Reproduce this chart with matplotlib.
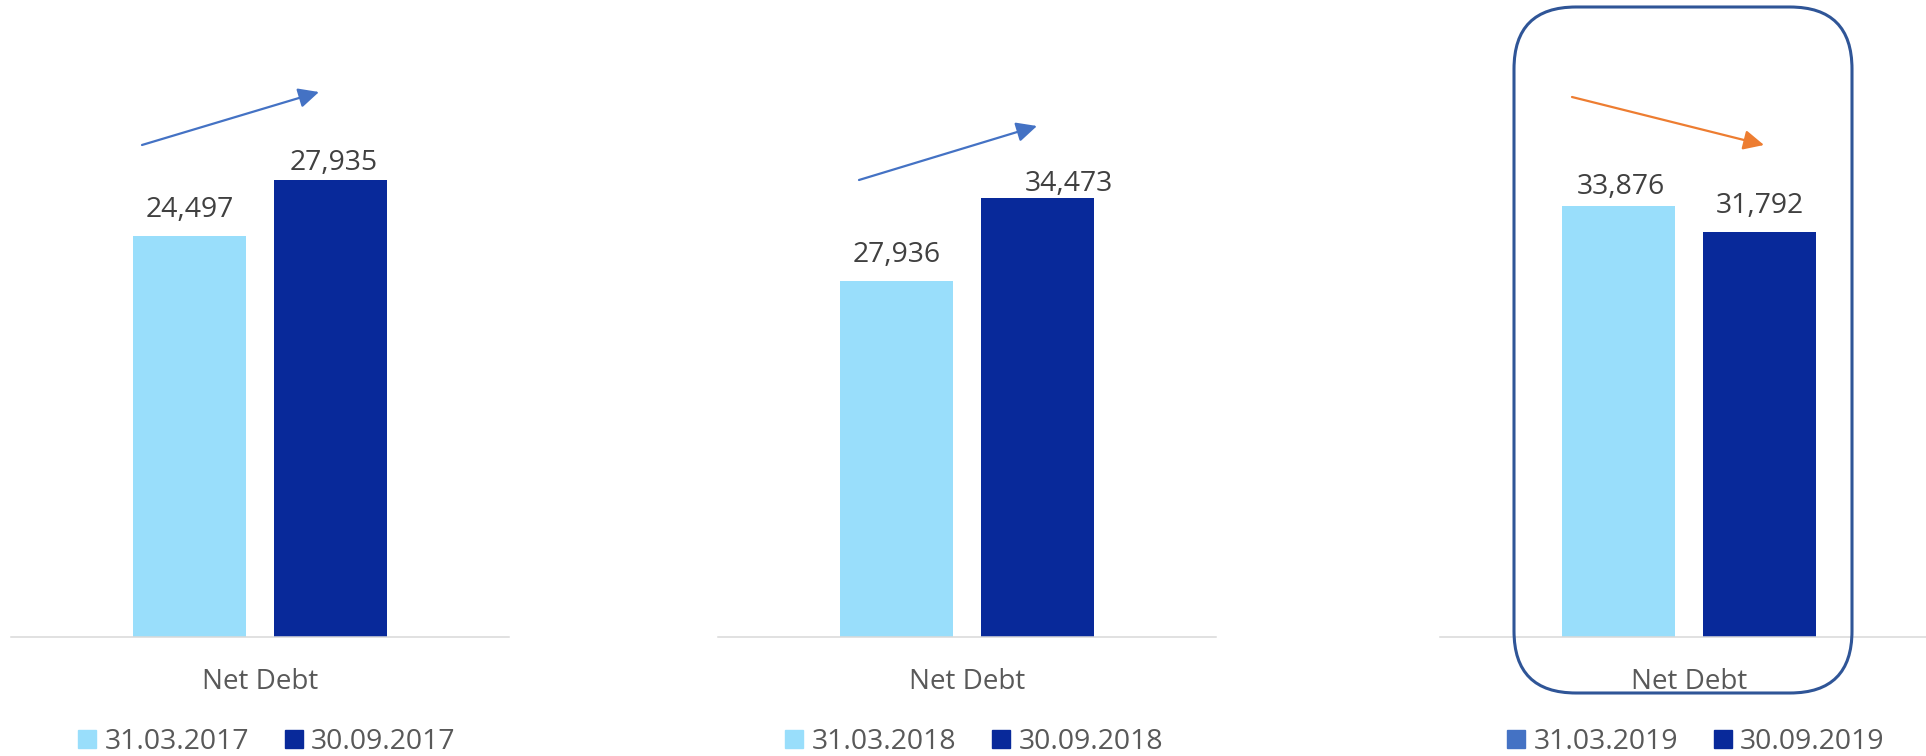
import matplotlib
matplotlib.use("Agg")
import matplotlib.pyplot as plt
from matplotlib.patches import FancyBboxPatch, Patch
from matplotlib.transforms import IdentityTransform

plt.rcParams["font.family"] = ["Open Sans", "DejaVu Sans"]

# data
category = "Net Debt"
start_dates = ["31.03.2017", "31.03.2018", "31.03.2019"]
end_dates = ["30.09.2017", "30.09.2018", "30.09.2019"]
start_values = [24497, 27936, 33876]
end_values = [27935, 34473, 31792]
y_max = [35000, 45000, 45000]

# styling
light = "#99DEFB"
dark = "#08299A"
legend_light = [light, light, "#4472C4"]
trend_colours = ["#4472C4", "#4472C4", "#ED7D31"]
# label nudges (pixels) for start / end bar labels
label_nudge = [((0, 19), (3, 10)), ((0, 19), (31, 7)), ((3, 12), (0, 19))]
# arrow ends in figure pixels (from top-left)
arrows = [((142, 145), (319, 92)), ((859, 180), (1037, 126)), ((1572, 97), (1764, 145))]

W, H = 1926, 756
fig = plt.figure(figsize=(W / 100, H / 100), dpi=100)

ax_left = [11, 718, 1440]
ax_width = 498
bottom_px, top_px = 637, 64

bar_w = 0.226
off = 0.142

for i in range(3):
    ax = fig.add_axes([ax_left[i] / W, (H - bottom_px) / H, ax_width / W, (bottom_px - top_px) / H])
    ax.set_xlim(-0.5, 0.5)
    ax.set_ylim(0, y_max[i])
    b1 = ax.bar(-off, start_values[i], width=bar_w, color=light)
    b2 = ax.bar(off, end_values[i], width=bar_w, color=dark)

    for spine in ["top", "left", "right"]:
        ax.spines[spine].set_visible(False)
    ax.spines["bottom"].set_color("#D9D9D9")
    ax.spines["bottom"].set_linewidth(1.1)
    ax.set_yticks([])
    ax.set_xticks([])

    for bars, val, (dx, dy) in zip([b1, b2], [start_values[i], end_values[i]], label_nudge[i]):
        r = bars[0]
        ax.annotate(f"{val:,}", xy=(r.get_x() + r.get_width() / 2, val),
                    xytext=(dx, dy), textcoords="offset pixels",
                    ha="center", va="baseline", fontsize=20.4, color="#404040")

    ax.annotate(category, xy=(0, 0), xycoords=("data", "axes fraction"),
                xytext=(0, -52), textcoords="offset pixels",
                ha="center", va="baseline", fontsize=20, color="#595959")

    handles = [Patch(color=legend_light[i]), Patch(color=dark)]
    centre = ax_left[i] + ax_width / 2
    ax.legend(handles, [start_dates[i], end_dates[i]], ncol=2, frameon=False,
              loc="upper left", bbox_to_anchor=((centre - 182) / W, (H - 728) / H),
              bbox_transform=fig.transFigure, borderpad=0, borderaxespad=0,
              fontsize=20.4, labelcolor="#595959", handlelength=0.64,
              handleheight=0.62, handletextpad=0.3, columnspacing=1.25)

    (x0, y0), (x1, y1) = arrows[i]
    fig.add_artist(plt.Annotation(
        "", xy=(x1, H - y1), xytext=(x0, H - y0),
        xycoords="figure pixels", textcoords="figure pixels",
        arrowprops=dict(arrowstyle="-|>,head_length=0.62,head_width=0.3",
                        color=trend_colours[i], lw=1.6, shrinkA=0, shrinkB=0,
                        mutation_scale=20)))

# highlight box around the last panel
box = FancyBboxPatch((1514, H - 693), 338, 686,
                     boxstyle="round,pad=0,rounding_size=62",
                     transform=IdentityTransform(), fill=False,
                     edgecolor="#2F5597", lw=2.2)
fig.add_artist(box)

fig.savefig("out.png", dpi=100)
